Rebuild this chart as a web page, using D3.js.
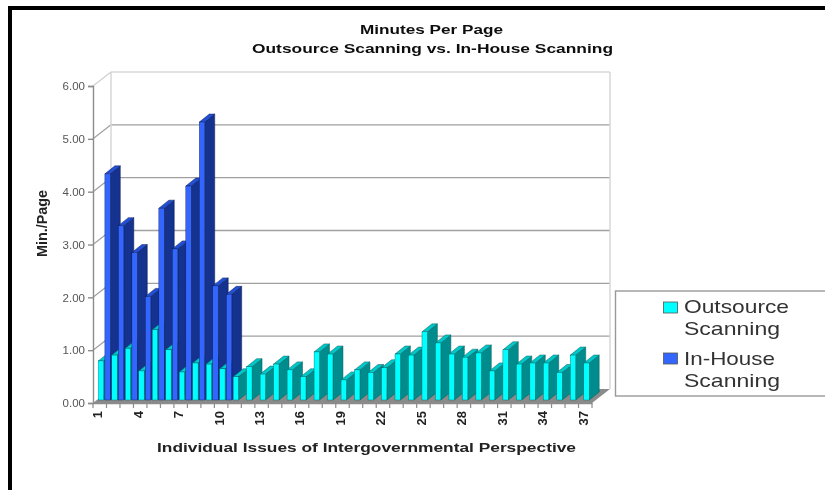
<!DOCTYPE html>
<html><head><meta charset="utf-8">
<style>html,body{margin:0;padding:0;background:#fff}svg{display:block}text{font-family:"Liberation Sans",Arial,sans-serif}</style>
<script src="https://cdn.jsdelivr.net/npm/d3@7"></script></head>
<body><svg id="c" width="825" height="490"></svg>
<script>
const titleLines = ["Minutes Per Page", "Outsource Scanning vs. In-House Scanning"];
const yTitle = "Min./Page";
const xTitle = "Individual Issues of Intergovernmental Perspective";
const issues = d3.range(1, 38);
const yTicks = [0, 1, 2, 3, 4, 5, 6];
const outsource = [0.74,0.85,0.98,0.55,1.33,0.95,0.53,0.70,0.68,0.59,0.44,0.63,0.49,0.68,0.57,0.44,0.91,0.87,0.38,0.57,0.52,0.61,0.87,0.85,1.29,1.08,0.87,0.81,0.89,0.55,0.95,0.68,0.70,0.70,0.52,0.85,0.70];
const inHouse = [4.28,3.30,2.79,1.96,3.63,2.86,4.05,5.26,2.16,2.00];
const legendLabels = [["Outsource","Scanning"],["In-House","Scanning"]];

const svg = d3.select("#c");
const defs = svg.append("defs");
defs.append("filter").attr("id","soft").append("feGaussianBlur").attr("stdDeviation",0.5);
const root = svg.append("g").attr("filter","url(#soft)");

const x = d3.scaleBand().domain(issues).range([93,592]);
const y = d3.scaleLinear().domain([0,6]).range([403,86]);
const DX = 18, DY = 14;

// frame
root.append("rect").attr("x",8).attr("y",6).attr("width",817).attr("height",4).attr("fill","#000");
root.append("rect").attr("x",8).attr("y",6).attr("width",4).attr("height",484).attr("fill","#000");

// walls and grid
root.selectAll("line.grid").data(yTicks.slice(1)).join("line").attr("class","grid")
  .attr("x1",93+DX).attr("x2",592+DX).attr("y1",d=>y(d)-DY).attr("y2",d=>y(d)-DY)
  .attr("stroke",d=>d===6?"#d8d8d8":"#a0a0a0").attr("stroke-width",1.4);
root.selectAll("line.side").data(yTicks.slice(1)).join("line").attr("class","side")
  .attr("x1",93).attr("x2",93+DX).attr("y1",d=>y(d)).attr("y2",d=>y(d)-DY)
  .attr("stroke",d=>d===6?"#d0d0d0":"#a0a0a0").attr("stroke-width",1.2);
root.append("line").attr("x1",93+DX).attr("x2",93+DX).attr("y1",y(6)-DY).attr("y2",y(0)-DY).attr("stroke","#d4d4d4").attr("stroke-width",1.4);
root.append("line").attr("x1",592+DX).attr("x2",592+DX).attr("y1",y(6)-DY).attr("y2",y(0)-DY).attr("stroke","#d4d4d4").attr("stroke-width",1.4);
// floor
const p0 = y(0);
root.append("path").attr("d",`M93,${p0}L${93+DX},${p0-DY}L${592+DX},${p0-DY}L592,${p0}Z`).attr("fill","#8a8a8a");

// axes
const yAxis = root.append("g").attr("transform","translate(93,0)")
  .call(d3.axisLeft(y).tickValues(yTicks).tickFormat(d3.format(".2f")).tickSize(5).tickPadding(3));
const xAxis = root.append("g").attr("transform",`translate(0,${p0})`)
  .call(d3.axisBottom(x).tickFormat((d,i)=>i%3===0?d:"").tickSize(0).tickPadding(0));
yAxis.selectAll("path,line").attr("stroke","#8c8c8c").attr("stroke-width",1.4);
yAxis.selectAll("text").attr("fill","#555").attr("font-size",11.5);
xAxis.select("path").attr("stroke","#8c8c8c").attr("stroke-width",1.4);
xAxis.selectAll("line").remove();
xAxis.selectAll("text").attr("fill","#222").attr("font-size",13).attr("font-weight","bold")
  .attr("text-anchor","end").attr("dy",null).attr("dominant-baseline","middle")
  .attr("transform","translate(-1,8) rotate(-90)").attr("y",0).attr("x",0);
root.append("g").selectAll("line").data(issues.concat([null])).join("line")
  .attr("x1",d=>d===null?592:x(d)).attr("x2",d=>d===null?592:x(d))
  .attr("y1",p0).attr("y2",p0+5).attr("stroke","#8c8c8c").attr("stroke-width",1.2);

// bars
const base = 3;
const depthX = 10, depthY = 8;
const barW = 5.4;
function bar(g, bx, val, c){
  const top = y(val) - base, bot = p0 - base, w = barW;
  g.append("path").attr("d",`M${bx+w},${top}L${bx+w+depthX},${top-depthY}L${bx+w+depthX},${bot-depthY}L${bx+w},${bot}Z`)
    .attr("fill",c.side).attr("stroke",c.line).attr("stroke-width",0.5);
  g.append("path").attr("d",`M${bx},${top}L${bx+depthX},${top-depthY}L${bx+w+depthX},${top-depthY}L${bx+w},${top}Z`)
    .attr("fill",c.top).attr("stroke",c.line).attr("stroke-width",0.5);
  g.append("rect").attr("x",bx).attr("y",top).attr("width",w).attr("height",bot-top)
    .attr("fill",c.front).attr("stroke",c.line).attr("stroke-width",0.4);
}
const cOut = {front:"#0ff",side:"#008c8c",top:"#00c8c8",line:"#006060"};
const cIn = {front:"#3366ff",side:"#13318f",top:"#2450d8",line:"#0a1a50"};
const bars = root.append("g");
issues.forEach((d,i)=>{
  const l = x(d) + 5.3;
  bar(bars, l, outsource[i], cOut);
  if (inHouse[i] !== undefined) bar(bars, l + 6.6, inHouse[i], cIn);
});

// titles
const stretched = s => s.attr("lengthAdjust","spacingAndGlyphs");
root.append("text").attr("x",431.5).attr("y",34).attr("text-anchor","middle")
  .attr("font-size",13.5).attr("font-weight","bold").attr("fill","#111").attr("textLength",143).call(stretched).text(titleLines[0]);
root.append("text").attr("x",432.5).attr("y",52.5).attr("text-anchor","middle")
  .attr("font-size",13.5).attr("font-weight","bold").attr("fill","#111").attr("textLength",361).call(stretched).text(titleLines[1]);
root.append("text").attr("x",366.5).attr("y",452).attr("text-anchor","middle")
  .attr("font-size",13.5).attr("font-weight","bold").attr("fill","#222").attr("textLength",419).call(stretched).text(xTitle);
root.append("text").attr("transform","translate(46.7,223.5) rotate(-90)").attr("text-anchor","middle")
  .attr("font-size",14).attr("font-weight","bold").attr("fill","#222").attr("textLength",67).call(stretched).text(yTitle);

// legend
root.append("rect").attr("x",615.5).attr("y",291).attr("width",215).attr("height",105).attr("fill","#fff").attr("stroke","#999").attr("stroke-width",1.4);
const swatch = [cOut.front, cIn.front];
legendLabels.forEach((lines,i)=>{
  const top = 302 + i*51;
  root.append("rect").attr("x",663.5).attr("y",top).attr("width",14).attr("height",11)
    .attr("fill",swatch[i]).attr("stroke","#555").attr("stroke-width",0.8);
  lines.forEach((s,j)=>root.append("text").attr("x",684).attr("y",313+i*52+j*22)
    .attr("font-size",19).attr("fill","#333")
    .attr("textLength",s==="Outsource"?105:(s==="Scanning"?96:91)).call(stretched).text(s));
});
</script></body></html>
